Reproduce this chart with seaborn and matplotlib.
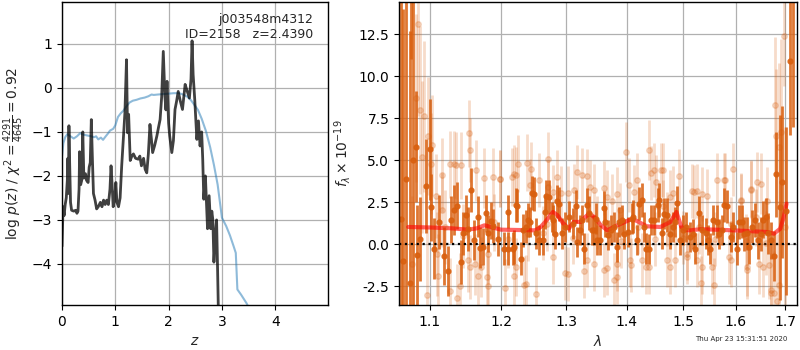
import numpy as np
import pandas as pd
import matplotlib
matplotlib.use("Agg")
import matplotlib.pyplot as plt
from matplotlib.ticker import FixedLocator, NullLocator, FormatStrFormatter
import seaborn as sns

sns.set_style("ticks", {"axes.grid": True, "grid.color": "#b0b0b0",
                        "axes.edgecolor": "black", "xtick.color": "black",
                        "ytick.color": "black"})
plt.rcParams['font.family'] = ['DejaVu Sans']

#%% left panel: p(z)
z_pz = [0.00, 0.02, 0.04, 0.06, 0.08, 0.10, 0.11, 0.12, 0.13, 0.14, 0.16, 0.18, 0.22,
        0.26, 0.28, 0.30, 0.32, 0.33, 0.35, 0.37, 0.39, 0.41, 0.44, 0.46, 0.49, 0.51,
        0.53, 0.55, 0.57, 0.59, 0.62, 0.65, 0.68, 0.72, 0.75, 0.78, 0.81, 0.84, 0.87,
        0.90, 0.92, 0.94, 0.96, 0.99, 1.01, 1.03, 1.06, 1.09, 1.12, 1.15, 1.18, 1.21,
        1.23, 1.25, 1.28, 1.31, 1.34, 1.38, 1.43, 1.46, 1.49, 1.53, 1.56, 1.59, 1.62,
        1.65, 1.68, 1.70, 1.74, 1.78, 1.81, 1.84, 1.87, 1.90, 1.93, 1.95, 1.97, 2.00,
        2.02, 2.06, 2.09, 2.12, 2.15, 2.18, 2.22, 2.26, 2.31, 2.34, 2.39, 2.42, 2.44,
        2.46, 2.49, 2.53, 2.56, 2.59, 2.62, 2.64, 2.66, 2.69, 2.71, 2.73, 2.76, 2.79,
        2.81, 2.83, 2.85, 2.88, 2.90, 2.92, 2.94]
lnp_pz = [-3.6, -2.7, -2.9, -2.65, -2.5, -2.1, -1.6, -2.4, -0.86, -1.5, -2.6, -2.78, -2.8,
          -2.78, -2.85, -2.8, -2.3, -1.45, -2.2, -2.1, -1.0, -2.05, -1.95, -2.1, -2.15, -1.8,
          -1.7, -0.72, -1.6, -2.4, -2.55, -2.75, -2.7, -2.6, -2.7, -2.55, -2.65, -2.55, -2.65,
          -2.3, -1.77, -2.2, -2.7, -2.5, -2.15, -2.6, -2.7, -2.5, -1.77, -1.17, -0.57, 0.64,
          -1.02, -0.6, -1.65, -1.55, -1.5, -1.6, -1.62, -1.55, -1.77, -1.6, -1.85, -1.93, -1.5,
          -0.83, -1.2, -1.47, -1.3, -1.09, -0.9, -0.72, -0.2, 0.83, -0.19, -0.5, 0.15, -0.8,
          -1.09, -1.47, -1.2, -0.49, -0.3, -0.08, -0.3, -0.49, 0.08, -0.04, -0.23, 0.2, 1.07,
          0.3, -0.26, -1.17, -0.75, -1.32, -1.0, -1.62, -2.53, -2.0, -2.6, -3.2, -2.45, -3.2,
          -2.8, -3.0, -3.96, -3.28, -3.0, -4.2, -5.5]

z_chi = [0.00, 0.025, 0.06, 0.10, 0.16, 0.22, 0.28, 0.34, 0.40, 0.47, 0.55, 0.60, 0.64,
         0.68, 0.73, 0.77, 0.82, 0.86, 0.90, 0.96, 1.00, 1.05, 1.10, 1.15, 1.22, 1.27,
         1.33, 1.40, 1.47, 1.55, 1.62, 1.68, 1.72, 1.80, 1.90, 2.00, 2.10, 2.20, 2.27,
         2.35, 2.42, 2.48, 2.55, 2.62, 2.70, 2.78, 2.85, 2.92, 3.00, 3.08, 3.15, 3.22,
         3.26, 3.29, 3.36, 3.46, 3.55]
lnp_chi = [-1.55, -1.26, -1.12, -1.05, -1.1, -1.15, -1.1, -1.03, -1.06, -1.08, -1.1, -1.12, -1.1,
           -1.17, -1.13, -1.18, -1.1, -1.04, -0.97, -0.93, -0.85, -0.66, -0.58, -0.52, -0.4, -0.33,
           -0.29, -0.27, -0.24, -0.22, -0.19, -0.15, -0.16, -0.15, -0.14, -0.13, -0.12, -0.12, -0.15,
           -0.2, -0.28, -0.38, -0.5, -0.7, -0.98, -1.35, -1.75, -2.2, -2.95, -3.14, -3.35, -3.6,
           -3.75, -4.58, -4.7, -4.89, -5.1]

#%% right panel: spectrum
# dark (first beam)
wave_a = [1.0612, 1.0640, 1.0675, 1.0728, 1.0745, 1.077, 1.081, 1.083, 1.086, 1.094, 1.100,
          1.102, 1.106, 1.112, 1.119, 1.125, 1.129, 1.133, 1.142, 1.146, 1.150, 1.157, 1.161,
          1.167, 1.174, 1.178, 1.181, 1.188, 1.195, 1.204, 1.210, 1.218, 1.223, 1.230, 1.238,
          1.246, 1.253, 1.263, 1.268, 1.279, 1.285, 1.293, 1.304, 1.315, 1.322, 1.328, 1.336,
          1.345, 1.350, 1.361, 1.369, 1.378, 1.383, 1.392, 1.402, 1.411, 1.417, 1.426, 1.434,
          1.443, 1.455, 1.461, 1.471, 1.481, 1.489, 1.495, 1.506, 1.513, 1.523, 1.529, 1.542,
          1.551, 1.564, 1.574, 1.584, 1.590, 1.602, 1.613, 1.622, 1.632, 1.644, 1.655, 1.665,
          1.677, 1.682, 1.689, 1.694, 1.702, 1.710, 1.716,
          1.211, 1.220, 1.224, 1.233, 1.241, 1.244, 1.249, 1.257, 1.266, 1.273, 1.278, 1.282,
          1.288, 1.298, 1.310, 1.318, 1.325, 1.334, 1.341, 1.349, 1.355, 1.364, 1.373, 1.386,
          1.396, 1.409, 1.421, 1.430, 1.439, 1.448, 1.457, 1.465, 1.476, 1.486, 1.500, 1.518,
          1.535, 1.547, 1.556, 1.567, 1.578, 1.595, 1.607, 1.617, 1.627, 1.638, 1.650, 1.660,
          1.671, 1.137, 1.153, 1.170, 1.185]
flux_a = [1.5, -1.0, 3.87, -2.33, 17.0, 5.0, 5.8, -0.65, 0.3, 3.47, 5.65,
          2.2, -0.25, 1.35, -0.7, -1.6, 1.45, 2.05, -1.05, 0.65, 1.75, 3.25, 0.25,
          1.65, -0.15, 1.85, 0.65, 1.1, 0.3, -0.25, 1.95, -0.25, 2.35, -0.85, 1.05,
          3.05, 0.65, 0.25, 2.85, 1.45, 2.55, 0.65, 1.65, 2.25, 0.85, -0.25, 1.85,
          0.85, 0.25, 2.15, 0.55, 1.05, -0.15, 1.45, 0.75, 1.65, 0.25, 2.65, -0.25,
          1.45, 2.35, 0.65, 1.75, 1.05, 2.45, 0.25, 1.05, 0.45, -0.25, 1.85, 0.65,
          -0.25, 1.35, 0.85, 2.25, 0.45, -0.25, 1.35, 0.65, 1.05, 0.25, 1.45, 0.65,
          -0.7, 4.15, 2.2, 3.7, 2.0, 10.9, 15.0,
          -0.26, -0.16, 2.3, 0.83, 1.43, 1.33, 2.98, 0.24, 1.92, 2.82, 1.63, 0.63,
          2.38, 1.03, 1.23, 0.14, 1.43, 2.32, 0.83, 1.53, 0.24, 1.33, 0.83, 1.33,
          0.63, 1.53, 2.42, 1.03, -0.26, 1.43, 2.62, 1.83, 0.63, 1.33, 0.83, 0.63,
          0.83, 0.24, 1.43, 0.63, 2.32, 1.03, 1.33, 0.63, -0.16, 1.43, 0.63, 1.63,
          0.24, 2.3, 0.9, -0.2, 1.4]
err_a = [16.0, 15.0, 18.0, 15.0, 6.0, 12.0, 3.3, 3.0, 2.5, 2.8, 3.0,
         2.0, 1.8, 1.6, 1.7, 1.5, 1.4, 1.5, 1.3, 1.3, 1.2, 1.3, 1.2,
         1.2, 1.1, 1.1, 1.1, 1.0, 1.0, 1.0, 1.0, 1.0, 1.0, 1.0, 1.0,
         1.0, 0.9, 0.9, 1.0, 0.9, 1.0, 0.9, 0.9, 1.0, 0.9, 0.9, 1.0,
         0.9, 0.9, 1.0, 0.9, 0.9, 0.9, 0.9, 0.9, 1.0, 0.9, 1.0, 0.9,
         0.9, 1.0, 0.9, 1.0, 0.9, 1.0, 0.9, 0.9, 0.9, 0.9, 1.0, 0.9,
         0.9, 1.0, 0.9, 1.0, 0.9, 1.0, 1.0, 1.0, 1.0, 1.1, 1.1, 1.2,
         1.5, 2.5, 5.5, 4.5, 5.0, 4.4, 8.0,
         1.0, 1.0, 1.0, 1.0, 1.0, 0.9, 1.0, 0.9, 1.0, 1.0, 0.9, 0.9,
         1.0, 0.9, 0.9, 0.9, 0.9, 1.0, 0.9, 0.9, 0.9, 0.9, 0.9, 0.9,
         0.9, 0.9, 1.0, 0.9, 0.9, 0.9, 1.0, 0.9, 0.9, 0.9, 0.9, 0.9,
         0.9, 0.9, 0.9, 0.9, 1.0, 0.9, 1.0, 1.0, 1.0, 1.0, 1.0, 1.1,
         1.1, 1.4, 1.3, 1.2, 1.1]

# light (second beam)
wave_b = [1.076, 1.081, 1.084, 1.087, 1.089, 1.092, 1.096, 1.097, 1.102, 1.103, 1.108,
          1.109, 1.111, 1.117, 1.117, 1.120, 1.127, 1.128, 1.133, 1.135, 1.137, 1.141, 1.143,
          1.145, 1.152, 1.154, 1.156, 1.156, 1.162, 1.164, 1.167, 1.171, 1.176, 1.179, 1.181,
          1.181, 1.188, 1.190, 1.198, 1.198, 1.206, 1.210, 1.217, 1.220, 1.220, 1.223, 1.223,
          1.225, 1.234, 1.238, 1.239, 1.240, 1.244, 1.245, 1.252, 1.258, 1.263, 1.270, 1.272,
          1.272, 1.279, 1.279, 1.285, 1.291, 1.298, 1.302, 1.302, 1.310, 1.312, 1.317, 1.326,
          1.328, 1.333, 1.334, 1.339, 1.345, 1.345, 1.350, 1.361, 1.362, 1.366, 1.367, 1.375,
          1.378, 1.383, 1.384, 1.384, 1.389, 1.390, 1.399, 1.404, 1.406, 1.408, 1.412, 1.417,
          1.420, 1.426, 1.433, 1.439, 1.439, 1.443, 1.448, 1.450, 1.451, 1.460, 1.463, 1.464,
          1.470, 1.471, 1.476, 1.477, 1.482, 1.485, 1.492, 1.500, 1.507, 1.508, 1.516, 1.520,
          1.526, 1.526, 1.530, 1.533, 1.536, 1.536, 1.545, 1.555, 1.558, 1.560, 1.564, 1.578,
          1.579, 1.587, 1.590, 1.591, 1.594, 1.610, 1.610, 1.620, 1.622, 1.623, 1.630, 1.631,
          1.640, 1.642, 1.647, 1.650, 1.655, 1.660, 1.663, 1.667, 1.670, 1.670, 1.678, 1.680,
          1.681, 1.683, 1.688, 1.688, 1.691, 1.697, 1.700]
flux_b = [-1.15, 8.7, 13.1, 8.0, 5.2, 7.6, -3.0, 6.45, 4.8, 5.9, 2.85,
          -0.55, -1.9, 4.1, 2.05, 1.0, -2.8, 4.75, 4.76, 4.7, -3.2, -2.5, 4.7,
          0.5, -0.95, 6.6, 5.6, -1.35, -1.2, 4.4, -1.9, -1.35, 3.95, -1.95, -0.55,
          -2.5, 4.0, 1.3, 3.9, 3.9, -2.6, 0.3, 4.0, 4.2, -1.9, 4.1, -1.35,
          4.8, -2.4, -2.35, 4.85, 0.6, 3.5, 4.5, -2.95, 3.8, 0.65, 1.2, 5.05,
          3.4, 3.1, -0.75, 4.0, 3.05, -1.7, 3.05, -1.75, 0.4, 3.2, 4.3, 4.1,
          -1.6, 4.05, -0.95, 3.4, -1.15, 3.2, 1.3, 3.35, -1.55, -1.4, 2.8, 2.55,
          -2.1, -1.15, 3.0, -1.95, 2.05, 0.2, 5.5, 3.55, -0.95, -1.25, 3.1, 3.85,
          1.0, -0.95, -1.35, 5.6, -1.35, 4.25, 4.4, 0.3, 3.7, 4.4, 4.4, 2.25,
          1.5, -0.95, -1.35, 2.8, 3.05, -0.95, 4.05, 0.4, -0.55, -0.75, 3.15, 3.1,
          3.15, -0.95, 1.0, -2.3, -1.35, 3.0, 2.85, -1.35, -2.4, 0.3, 3.85, 3.8,
          3.85, -0.75, 1.2, -0.95, 4.45, 2.65, 2.6, 0.2, -1.35, -1.55, 3.3, 3.25,
          1.6, 3.7, -1.15, 3.6, -1.35, 0.1, 2.6, -1.25, -2.9, -2.74, -2.9, 8.3,
          6.45, -3.4, 5.8, -2.4, 6.7, 12.4, 1.0]
err_b = [4.0, 5.0, 5.5, 5.0, 4.5, 4.5, 4.0, 3.5, 3.0, 3.0, 2.5,
         2.5, 2.5, 2.2, 2.2, 2.2, 2.0, 2.0, 2.0, 2.0, 2.0, 2.0, 2.0,
         1.9, 1.9, 2.0, 1.9, 1.9, 1.8, 1.8, 1.8, 1.8, 1.8, 1.8, 1.8,
         1.8, 1.7, 1.7, 1.7, 1.7, 1.7, 1.7, 1.7, 1.7, 1.7, 1.7, 1.7,
         1.7, 1.7, 1.7, 1.7, 1.6, 1.6, 1.6, 1.6, 1.6, 1.6, 1.6, 1.6,
         1.6, 1.6, 1.6, 1.6, 1.6, 1.6, 1.6, 1.6, 1.6, 1.6, 1.6, 1.6,
         1.6, 1.6, 1.6, 1.6, 1.6, 1.6, 1.6, 1.6, 1.6, 1.6, 1.6, 1.6,
         1.6, 1.6, 1.6, 1.6, 1.6, 1.6, 1.8, 1.6, 1.6, 1.6, 1.6, 1.6,
         1.6, 1.6, 1.6, 1.8, 1.6, 1.6, 1.6, 1.6, 1.6, 1.6, 1.6, 1.6,
         1.6, 1.6, 1.6, 1.6, 1.6, 1.6, 1.6, 1.6, 1.6, 1.6, 1.6, 1.6,
         1.6, 1.6, 1.6, 1.6, 1.6, 1.6, 1.6, 1.6, 1.6, 1.6, 1.6, 1.6,
         1.6, 1.6, 1.6, 1.6, 1.6, 1.6, 1.6, 1.6, 1.7, 1.7, 1.7, 1.7,
         1.7, 1.8, 1.8, 1.8, 1.8, 1.9, 2.0, 2.0, 2.2, 2.2, 2.5, 4.0,
         4.0, 4.0, 5.0, 5.0, 5.5, 3.0, 6.0]

# best-fit model
model_wave = [1.071, 1.10, 1.13, 1.152, 1.165, 1.176, 1.188, 1.200, 1.225, 1.251, 1.259,
              1.267, 1.279, 1.286, 1.295, 1.304, 1.312, 1.323, 1.330, 1.337, 1.345, 1.356,
              1.367, 1.384, 1.406, 1.415, 1.435, 1.459, 1.477, 1.488, 1.497, 1.505, 1.514,
              1.533, 1.597, 1.663, 1.677, 1.690, 1.697, 1.703]
model_flux = [1.03, 1.0, 0.95, 0.87, 0.95, 1.13, 1.0, 0.87, 0.85, 0.83, 1.0,
              1.33, 1.92, 1.73, 1.25, 0.93, 1.33, 1.33, 1.6, 1.83, 1.63, 1.15,
              0.83, 1.13, 1.47, 1.43, 1.07, 1.03, 1.33, 1.92, 1.03, 0.85, 0.83,
              0.9, 0.83, 0.73, 0.63, 0.93, 1.6, 2.42]

spec_color = '#d95f0e'

#%%
fig = plt.figure(figsize=(8, 3.5), dpi=100)
ax1 = fig.add_axes([0.0775, 0.129, 0.3325, 0.865])
ax2 = fig.add_axes([0.49875, 0.129, 0.4975, 0.865])

pz = pd.DataFrame({'z': z_pz, 'lnp': lnp_pz})
chi = pd.DataFrame({'z': z_chi, 'lnp': lnp_chi})
sns.lineplot(data=chi, x='z', y='lnp', ax=ax1, color='#1f77b4', alpha=0.5, lw=1.5,
             estimator=None, sort=False)
sns.lineplot(data=pz, x='z', y='lnp', ax=ax1, color='k', alpha=0.75, lw=2,
             estimator=None, sort=False)
ax1.set_xlim(0, 4.99)
ax1.set_ylim(-4.93, 1.95)
ax1.set_xticks([0, 1, 2, 3, 4])
ax1.set_yticks([-4, -3, -2, -1, 0, 1])
ax1.set_xlabel('$z$', fontsize=10)
ax1.set_ylabel(r'log $p(z)$ / $\chi^2=\frac{4291}{4645}=0.92$', fontsize=10)
ax1.text(0.945, 0.965, 'j003548m4312\nID=2158   z=2.4390', transform=ax1.transAxes,
         ha='right', va='top', fontsize=9)

ax2.errorbar(wave_b, flux_b, err_b, marker='o', ms=4, linestyle='None',
             color=spec_color, alpha=0.22, elinewidth=2, capsize=0)
ax2.errorbar(wave_a, flux_a, err_a, marker='o', ms=3.5, linestyle='None',
             color=spec_color, alpha=0.85, elinewidth=2, capsize=0)
model = pd.DataFrame({'wave': model_wave, 'flux': model_flux})
sns.lineplot(data=model, x='wave', y='flux', ax=ax2, color='red', alpha=0.6, lw=3,
             estimator=None, sort=False)
ax2.axhline(0, color='k', linestyle=':', lw=1.6)
ax2.set_xscale('log')
ax2.set_xlim(1.059, 1.725)
ax2.set_ylim(-3.6, 14.4)
ax2.xaxis.set_major_locator(FixedLocator([1.1, 1.2, 1.3, 1.4, 1.5, 1.6, 1.7]))
ax2.xaxis.set_minor_locator(NullLocator())
ax2.xaxis.set_major_formatter(FormatStrFormatter('%.1f'))
ax2.set_yticks([-2.5, 0, 2.5, 5, 7.5, 10, 12.5])
ax2.yaxis.set_major_formatter(FormatStrFormatter('%.1f'))
ax2.set_xlabel(r'$\lambda$', fontsize=10)
ax2.set_ylabel(r'$f_\lambda\times10^{-19}$', fontsize=10)

for ax in (ax1, ax2):
    ax.grid(True, color='#b0b0b0', lw=0.9)
    ax.tick_params(labelsize=10, length=3.5, width=0.8)
    for s in ax.spines.values():
        s.set_visible(True)
        s.set_color('black')
        s.set_linewidth(1.0)

fig.text(0.984, 0.023, 'Thu Apr 23 15:31:51 2020', ha='right', va='bottom', fontsize=5)

fig.savefig('out.png', dpi=100)
